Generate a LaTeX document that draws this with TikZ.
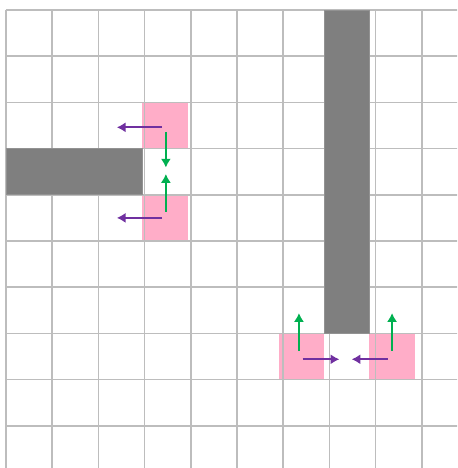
\documentclass[tikz,border=0pt]{standalone}
\usetikzlibrary{arrows.meta}
\definecolor{wallgray}{HTML}{7F7F7F}
\definecolor{gridline}{HTML}{BDBDBD}
\definecolor{cellpink}{HTML}{FFADC8}
\definecolor{movepurple}{HTML}{7030A0}
\definecolor{movegreen}{HTML}{00B050}

\begin{document}
\begin{tikzpicture}[
	x=0.983cm, y=-1cm,
	>={Latex[length=1.9mm, width=2.2mm]},
	wall/.style={fill=wallgray, draw=wallgray!85},
	target/.style={fill=cellpink},
	hmove/.style={->, movepurple, line width=1.2pt},
	vmove/.style={->, movegreen, line width=1.2pt}
	]
	
	% ==========================================
	% CANVAS: 10x10 grid, cut at right and bottom
	% ==========================================
	\useasboundingbox (-0.132,-0.216) rectangle (9.934,9.913);
	\clip (-0.132,-0.216) rectangle (9.934,9.913);
	\fill[white] (-0.132,-0.216) rectangle (9.934,9.913);
	
	% Pink cells beside the walls
	\fill[target] (3,2) rectangle (4,3);
	\fill[target] (3,4) rectangle (4,5);
	\fill[target] (6,7) rectangle (7,8);
	\fill[target] (8,7) rectangle (9,8);
	
	% Grid lines
	\draw[gridline, line width=0.9pt] (0,0) grid (10,10);
	
	% Walls
	\draw[wall] (0,3) rectangle (3,4);
	\draw[wall] (7,0) rectangle (8,7);
	
	% ==========================================
	% MOVES AROUND THE LEFT WALL
	% ==========================================
	\draw[hmove] (3.44,2.54) -- (2.44,2.54);
	\draw[hmove] (3.44,4.50) -- (2.44,4.50);
	
	\draw[vmove] (3.52,2.64) -- (3.52,3.41);
	\draw[vmove] (3.52,4.37) -- (3.52,3.55);
	
	% ==========================================
	% MOVES AROUND THE RIGHT WALL
	% ==========================================
	\draw[vmove] (6.45,7.37) -- (6.45,6.56);
	\draw[vmove] (8.50,7.37) -- (8.50,6.56);
	
	\draw[hmove] (6.53,7.56) -- (7.34,7.56);
	\draw[hmove] (8.40,7.56) -- (7.61,7.56);
\end{tikzpicture}
\end{document}
